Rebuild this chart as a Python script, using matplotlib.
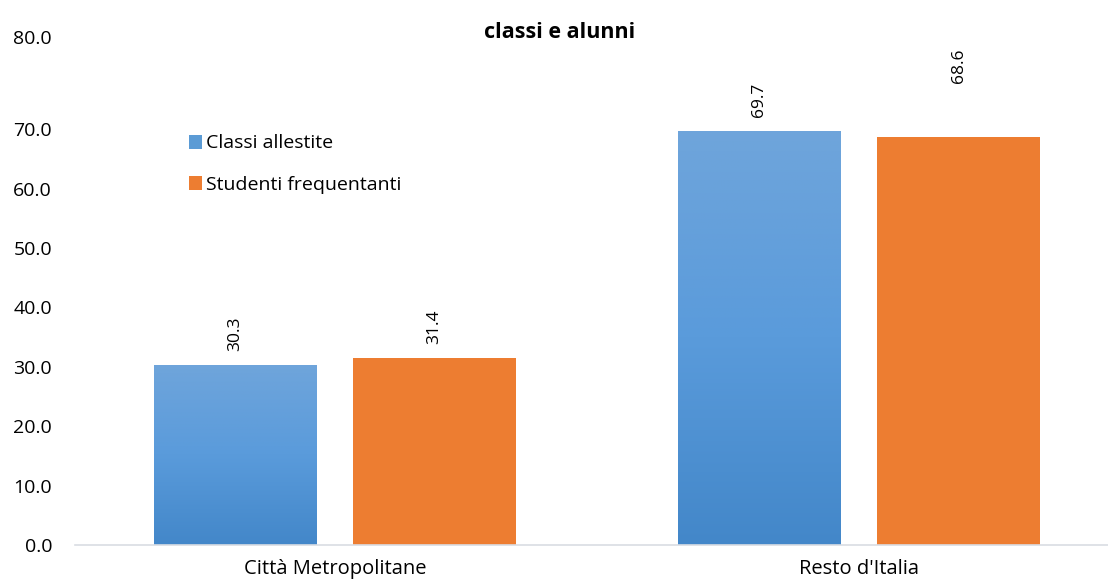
import numpy as np
import matplotlib.pyplot as plt
from matplotlib.patches import Rectangle
from matplotlib.colors import LinearSegmentedColormap

categories = ["Città Metropolitane", "Resto d'Italia"]
classi = [30.3, 69.7]
studenti = [31.4, 68.6]
series_names = ["Classi allestite", "Studenti frequentanti"]
yticks = [0, 10, 20, 30, 40, 50, 60, 70]

plt.rcParams['font.family'] = ['Open Sans', 'DejaVu Sans']

W, H = 1108, 584
fig = plt.figure(figsize=(W / 100, H / 100), dpi=100)
ax = fig.add_axes([75 / W, (H - 545) / H, (W - 75) / W, (545 - 37) / H])

x = np.arange(len(categories))
bw = 0.31
off = 0.19
blue_cmap = LinearSegmentedColormap.from_list('b', ['#4387c9', '#5a9bdb', '#6fa5db'])
grad = np.linspace(0, 1, 256).reshape(-1, 1)

for xi, v in zip(x - off, classi):
    rect = Rectangle((xi - bw / 2, 0), bw, v, facecolor='none', edgecolor='none')
    ax.add_patch(rect)
    im = ax.imshow(grad, cmap=blue_cmap, aspect='auto', origin='lower',
                   extent=(xi - bw / 2, xi + bw / 2, 0, v), zorder=2)
    im.set_clip_path(rect)
    ax.text(xi, v + 2.4, f"{v:.1f}", rotation=90, ha='center', va='bottom', fontsize=12.5)

ax.bar(x + off, studenti, bw, color='#ed7d31', zorder=2)
# second label was moved up in the original chart
label_pad = [2.4, 9.2]
for xi, v, p in zip(x + off, studenti, label_pad):
    ax.text(xi, v + p, f"{v:.1f}", rotation=90, ha='center', va='bottom', fontsize=12.5)

ax.set_xlim(-0.496, 1.475)
ax.set_ylim(0, 85.5)
ax.set_yticks(yticks + [85.5])
ax.set_yticklabels([f"{t:.1f}" for t in yticks] + ["80.0"], fontsize=14)
ax.set_xticks(x)
ax.set_xticklabels(categories, fontsize=14.5)
ax.tick_params(length=0)
ax.tick_params(axis='x', pad=10)
ax.tick_params(axis='y', pad=16.5)
for s in ['top', 'right', 'left']:
    ax.spines[s].set_visible(False)
ax.spines['bottom'].set_color('#d9dde3')
ax.spines['bottom'].set_linewidth(1.2)

fig.text(560 / W, 1 - 32 / H, "classi e alunni", ha='center', va='center',
         fontsize=15.5, fontweight='bold')

# legend
handles = [Rectangle((0, 0), 1, 1, facecolor='#5b9bd5'),
           Rectangle((0, 0), 1, 1, facecolor='#ed7d31')]
ax.legend(handles, series_names, loc='upper left', bbox_to_anchor=(171 / W, 1 - 117 / H),
          bbox_transform=fig.transFigure, frameon=False, fontsize=14,
          handlelength=0.7, handleheight=0.7, handletextpad=0.2, labelspacing=1.2)

fig.savefig('out.png', dpi=100)
